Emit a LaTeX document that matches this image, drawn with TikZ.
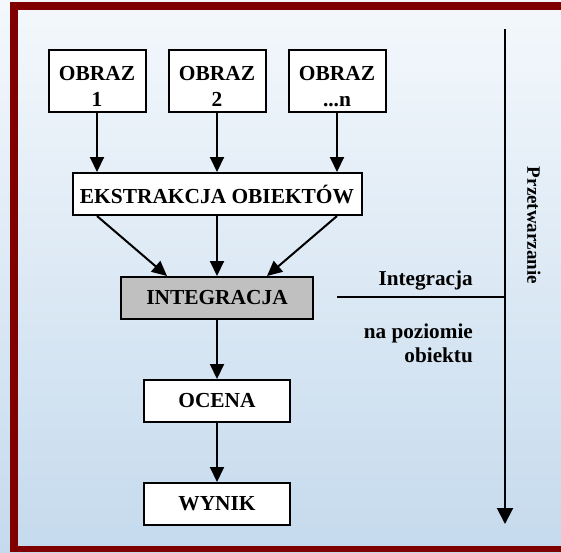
\documentclass[tikz,border=0pt]{standalone}
\usepackage{fontspec}
\setmainfont{Liberation Serif}
\usetikzlibrary{arrows.meta,calc}
\definecolor{frame}{RGB}{128,0,0}
\definecolor{bgtop}{RGB}{244,248,252}
\definecolor{bgbot}{RGB}{197,218,237}
\definecolor{boxgray}{RGB}{192,192,192}
\begin{document}
\begin{tikzpicture}[x=1pt,y=-1pt,
  box/.style={draw=black, line width=2pt, fill=white, inner sep=0pt,
    font=\fontsize{21.4}{26}\selectfont\bfseries, align=center},
  boxtext/.style={inner sep=0pt, font=\fontsize{21.4}{26}\selectfont\bfseries, align=center},
  arr/.style={line width=2pt, -{Triangle[length=15pt,width=14pt]}},
  bigarr/.style={line width=2pt, -{Triangle[length=16pt,width=16pt]}},
  lbl/.style={font=\fontsize{21.2}{24}\selectfont\bfseries, inner sep=0pt}]
\useasboundingbox (0,0) rectangle (561,552);
\shade[top color=bgtop, bottom color=bgbot] (0,0) rectangle (561,552);
\fill[frame] (10,2) rectangle (18,552);
\fill[frame] (10,2) rectangle (561,10);
\fill[frame] (10,546) rectangle (561,552);

\node[box, minimum width=97pt, minimum height=62pt] (o1) at (97,81) {};
\node[box, minimum width=97pt, minimum height=62pt] (o2) at (217,81) {};
\node[box, minimum width=97pt, minimum height=62pt] (o3) at (337,81) {};
\node[boxtext, anchor=base] (o1t) at (97,106) {OBRAZ\\1};
\node[boxtext, anchor=base] (o2t) at (217,106) {OBRAZ\\2};
\node[boxtext, anchor=base] (o3t) at (337,106) {OBRAZ\\...n};
\node[box, minimum width=289pt, minimum height=42pt] (ek) at (217,194) {EKSTRAKCJA OBIEKTÓW};
\node[box, fill=boxgray, minimum width=192pt, minimum height=42pt] (in) at (217,298) {INTEGRACJA};
\node[box, minimum width=146pt, minimum height=42pt] (oc) at (217,401) {OCENA};
\node[box, minimum width=146pt, minimum height=42pt] (wy) at (217,504) {WYNIK};

\draw[arr] (o1.south) -- (o1.south |- ek.north);
\draw[arr] (o2.south) -- (o2.south |- ek.north);
\draw[arr] (o3.south) -- (o3.south |- ek.north);
\draw[arr] (ek.south -| o1.south) -- ($(in.north)+(-50,0)$);
\draw[arr] (ek.south) -- (in.north);
\draw[arr] (ek.south -| o3.south) -- ($(in.north)+(50,0)$);
\draw[arr] (in.south) -- (oc.north);
\draw[arr] (oc.south) -- (wy.north);

\coordinate (vtop) at (505,29);
\coordinate (vbot) at (505,524);
\draw[bigarr] (vtop) -- (vbot);
\coordinate (hl) at (337,297);
\draw[line width=2pt] (hl) -- (hl -| vtop);

\node[lbl, anchor=base east] (t1) at (473,285) {Integracja};
\node[lbl, anchor=base east] (t2) at (473,338) {na poziomie};
\node[lbl, anchor=base east] (t3) at (473,362) {obiektu};
\node[lbl, font=\fontsize{19}{22}\selectfont\bfseries, rotate=-90] (t4) at (533.8,225.5) {Przetwarzanie};
\end{tikzpicture}
\end{document}
